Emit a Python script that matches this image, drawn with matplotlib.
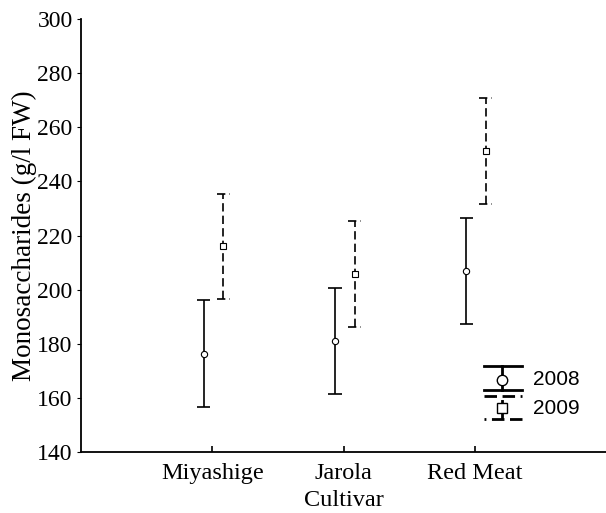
import matplotlib
matplotlib.use("Agg")
import matplotlib.pyplot as plt
import numpy as np

categories = ["Miyashige", "Jarola", "Red Meat"]
years = ["2008", "2009"]
mean_2008 = [176.4, 181.0, 207.0]
err_2008 = [19.7, 19.6, 19.7]
mean_2009 = [216.0, 205.8, 251.2]
err_2009 = [19.5, 19.7, 19.5]
yticks = [140, 160, 180, 200, 220, 240, 260, 280, 300]

serif = "Liberation Serif"
sans = "Liberation Sans"

fig = plt.figure(figsize=(6.06, 5.13), dpi=100)
ax = fig.add_axes([0.1337, 0.1183, 0.8663, 0.8447])

xpos = np.arange(1, len(categories) + 1)
lw = 1.2
cap = 0.05
dash = (0, (5, 2.5))


def draw(xs, means, errs, marker, ls):
    means = np.asarray(means)
    errs = np.asarray(errs)
    ax.vlines(xs, means - errs, means + errs, colors="black", linewidth=lw, linestyles=[ls])
    ax.hlines(means - errs, xs - cap, xs + cap, colors="black", linewidth=lw, linestyles=[ls])
    ax.hlines(means + errs, xs - cap, xs + cap, colors="black", linewidth=lw, linestyles=[ls])
    ax.plot(xs, means, linestyle="none", marker=marker, markersize=4.5,
            markerfacecolor="white", markeredgecolor="black", markeredgewidth=0.8, zorder=5)


draw(xpos - 0.065, mean_2008, err_2008, "o", "solid")
draw(xpos + 0.085, mean_2009, err_2009, "s", dash)

ax.set_xlim(0, 4)
ax.set_ylim(140, 300)
ax.set_xticks(xpos)
ax.set_xticklabels(categories, fontfamily=serif, fontsize=17.5)
ax.set_yticks(yticks)
ax.set_yticklabels([str(t) for t in yticks], fontfamily=serif, fontsize=17)
ax.tick_params(axis="x", direction="in", length=4, width=1.2, pad=8)
ax.tick_params(axis="y", direction="out", length=3, width=0.8, pad=3)
ax.set_xlabel("Cultivar", fontfamily=serif, fontsize=17.5, labelpad=4)
ax.set_ylabel("Monosaccharides (g/l FW)", fontfamily=serif, fontsize=19.5, labelpad=0)
for s in ["top", "right"]:
    ax.spines[s].set_visible(False)
for s in ["left", "bottom"]:
    ax.spines[s].set_linewidth(1.3)

# legend drawn manually in axes coordinates
T = ax.transAxes
lx0, lx1, lxc = 0.7676, 0.84, 0.802
llw = 2.0
# 2008
ax.plot([lx0, lx1], [0.199, 0.199], color="black", lw=llw, transform=T, clip_on=False)
ax.plot([lx0, lx1], [0.1438, 0.1438], color="black", lw=llw, transform=T, clip_on=False)
ax.plot([lxc, lxc], [0.1438, 0.199], color="black", lw=llw, transform=T, clip_on=False)
ax.plot([lxc], [0.167], marker="o", markersize=7.5, markerfacecolor="white",
        markeredgecolor="black", markeredgewidth=1.0, transform=T, clip_on=False, zorder=6)
ax.text(0.861, 0.167, years[0], fontfamily=sans, fontsize=15, va="center", ha="left", transform=T)
# 2009
ax.plot([lx0, lx1], [0.1306, 0.1306], color="black", lw=llw, ls=(0, (4.5, 2)), transform=T, clip_on=False)
ax.plot([lx1, lx0], [0.0762, 0.0762], color="black", lw=llw, ls=(0, (4.5, 2)), transform=T, clip_on=False)
ax.plot([lxc, lxc], [0.0762, 0.1306], color="black", lw=llw, ls=(0, (2.5, 2)), transform=T, clip_on=False)
ax.plot([lxc], [0.102], marker="s", markersize=7.5, markerfacecolor="white",
        markeredgecolor="black", markeredgewidth=1.0, transform=T, clip_on=False, zorder=6)
ax.text(0.861, 0.102, years[1], fontfamily=sans, fontsize=15, va="center", ha="left", transform=T)

fig.savefig("out.png", dpi=100)
